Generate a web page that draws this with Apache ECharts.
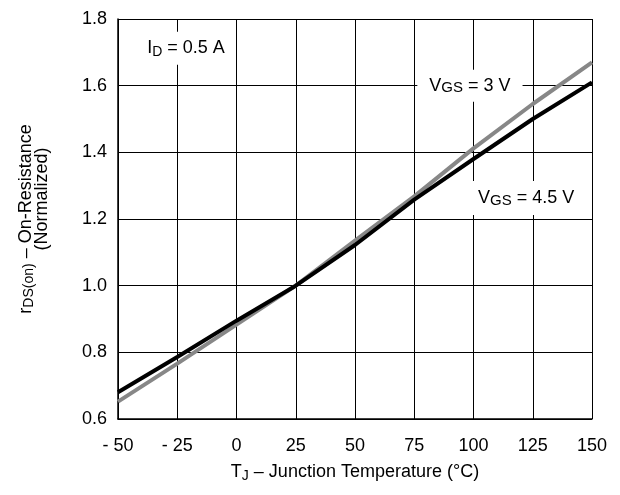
<!DOCTYPE html>
<html>
<head>
<meta charset="utf-8">
<script src="https://cdn.jsdelivr.net/npm/echarts@6/dist/echarts.min.js"></script>
<style>
html,body{margin:0;padding:0;background:#fff;}
#c{width:620px;height:495px;}
</style>
</head>
<body>
<div id="c"></div>
<script>
// Data
var temps = [-50, -25, 0, 25, 50, 75, 100, 125, 150];
var rdsVgs45 = [0.680, 0.786, 0.895, 1.000, 1.122, 1.258, 1.380, 1.500, 1.610];
var rdsVgs3 = [0.652, 0.766, 0.883, 1.000, 1.135, 1.268, 1.412, 1.545, 1.670];
var xTicks = [-50, -25, 0, 25, 50, 75, 100, 125, 150];
var yTicks = [0.6, 0.8, 1.0, 1.2, 1.4, 1.6, 1.8];
var labelIdPos = [-21.3, 1.712];
var labelV3Pos = [98.5, 1.6];
var labelV45Pos = [122.2, 1.263];

function pairs(xs, ys) { return xs.map(function (x, i) { return [x, ys[i]]; }); }

var FONT = 'Liberation Sans, Arial, Helvetica, sans-serif';
var main = {fontSize: 18, fontFamily: FONT, color: '#000'};
var sub = {fontSize: 14, fontFamily: FONT, color: '#000', padding: [7, 0, 0, 0]};

var chart = echarts.init(document.getElementById('c'), null, {renderer: 'canvas'});
chart.setOption({
  backgroundColor: '#fff',
  animation: false,
  grid: {left: 118, right: 28, top: 19, bottom: 76, containLabel: false},
  xAxis: {
    type: 'value', min: -50, max: 150, interval: 25,
    axisLine: {show: true, onZero: false, lineStyle: {color: '#000', width: 1.5}},
    axisTick: {show: false},
    splitLine: {show: true, lineStyle: {color: '#000', width: 1}},
    axisLabel: {
      margin: 18, fontSize: 18, fontFamily: FONT, color: '#000',
      formatter: function (v) { return v < 0 ? '- ' + Math.abs(v) : String(v); }
    },
    name: '{a|T}{s|J}{a| – Junction Temperature (°C)}',
    nameLocation: 'middle', nameGap: 43,
    nameTextStyle: {rich: {a: main, s: sub}}
  },
  yAxis: {
    type: 'value', min: 0.6, max: 1.8, interval: 0.2,
    axisLine: {show: true, onZero: false, lineStyle: {color: '#000', width: 1.5}},
    axisTick: {show: false},
    splitLine: {show: true, lineStyle: {color: '#000', width: 1}},
    axisLabel: {
      margin: 11, fontSize: 18, fontFamily: FONT, color: '#000',
      formatter: function (v) { return v.toFixed(1); }
    },
    name: '{a|r}{s|DS(on)}{a| – On-Resistance}\n{b|(Normalized)}',
    nameLocation: 'middle', nameGap: 68,
    nameTextStyle: {
      lineHeight: 15,
      rich: {
        a: {fontSize: 18, fontFamily: FONT, color: '#000', lineHeight: 16},
        s: {fontSize: 14, fontFamily: FONT, color: '#000', padding: [7, 0, 0, 0], lineHeight: 16},
        b: {fontSize: 18, fontFamily: FONT, color: '#000', padding: [0, 0, 0, 40], lineHeight: 16}
      }
    }
  },
  series: [
    {
      name: 'VGS = 3 V', type: 'line', data: pairs(temps, rdsVgs3),
      showSymbol: false, symbol: 'none', z: 3,
      lineStyle: {color: '#878787', width: 4},
      markPoint: {
        symbol: 'rect', symbolSize: 0, silent: true,
        data: [
          {coord: labelIdPos, label: {show: true, formatter: '{a|I}{s|D}{a| = 0.5 A}', backgroundColor: '#fff', padding: [6, 8, 6, 8], rich: {a: main, s: sub}}},
          {coord: labelV3Pos, label: {show: true, formatter: '{a|V}{s|GS}{a| = 3 V}', backgroundColor: '#fff', padding: [6, 12, 6, 12], rich: {a: main, s: {fontSize: 15, fontFamily: FONT, color: '#000', padding: [5, 0, 0, 0]}}}},
          {coord: labelV45Pos, label: {show: true, formatter: '{a|V}{s|GS}{a| = 4.5 V}', backgroundColor: '#fff', padding: [7, 5, 7, 5], rich: {a: main, s: {fontSize: 15, fontFamily: FONT, color: '#000', padding: [5, 0, 0, 0]}}}}
        ]
      }
    },
    {
      name: 'VGS = 4.5 V', type: 'line', data: pairs(temps, rdsVgs45),
      showSymbol: false, symbol: 'none', z: 4,
      lineStyle: {color: '#000', width: 4}
    }
  ]
});
</script>
</body>
</html>
